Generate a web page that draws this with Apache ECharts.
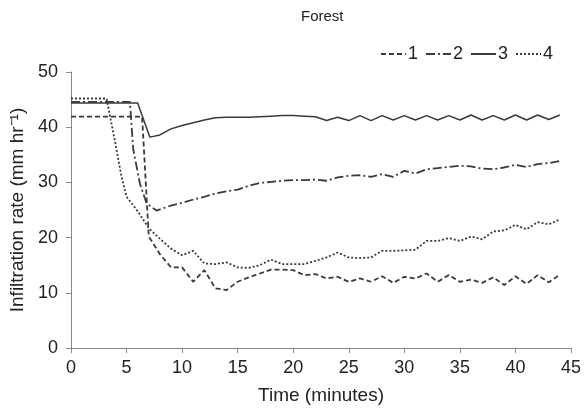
<!DOCTYPE html>
<html>
<head>
<meta charset="utf-8">
<script src="https://cdn.jsdelivr.net/npm/echarts@6/dist/echarts.min.js"></script>
<style>html,body{margin:0;padding:0;background:#fff}#c{width:584px;height:411px}</style>
</head>
<body>
<div id="c"></div>
<script>
const seriesNames = ['1', '2', '3', '4'];
const xTicks = [0, 5, 10, 15, 20, 25, 30, 35, 40, 45];
const yTicks = [0, 10, 20, 30, 40, 50];

const t1 = [0,1,2,3,4,5,6,6.4,7,8,9,10,11,12,13,14,15,16,17,18,19,20,21,22,23,24,25,26,27,28,29,30,31,32,33,34,35,36,37,38,39,40,41,42,43,44];
const v1 = [41.9,41.9,41.9,41.9,41.9,41.9,41.9,41.9,20.2,17.0,14.6,14.6,12.0,14.1,10.8,10.5,12.0,12.8,13.5,14.2,14.2,14.1,13.2,13.4,12.6,12.9,12.0,12.6,12.0,13.0,11.8,12.9,12.6,13.5,12.0,13.2,12.0,12.4,11.8,12.8,11.4,13.0,11.6,13.2,11.9,13.3];

const t2 = [0,1,2,3,4,5,5.3,5.6,6.2,6.8,7.7,9,10,11,12,13,14,15,16,17,18,19,20,21,22,23,24,25,26,27,28,29,30,31,32,33,34,35,36,37,38,39,40,41,42,43,44];
const v2 = [44.6,44.6,44.6,44.6,44.6,44.6,44.6,36.0,29.8,26.2,24.9,25.8,26.3,26.9,27.4,28.0,28.4,28.7,29.4,29.9,30.1,30.3,30.4,30.4,30.5,30.3,30.9,31.2,31.3,31.0,31.5,31.0,32.1,31.6,32.4,32.6,32.8,33.0,32.9,32.5,32.4,32.7,33.2,32.8,33.3,33.5,33.9];

const t3 = [0,1,2,3,4,5,6,7.1,8,9,10,11,12,13,14,15,16,17,18,19,20,21,22,23,24,25,26,27,28,29,30,31,32,33,34,35,36,37,38,39,40,41,42,43,44];
const v3 = [44.4,44.4,44.4,44.4,44.4,44.4,44.4,38.2,38.6,39.7,40.3,40.8,41.3,41.7,41.8,41.8,41.8,41.9,42.0,42.1,42.1,42.0,41.9,41.2,41.8,41.2,42.1,41.2,42.1,41.3,42.1,41.3,42.1,41.3,42.1,41.3,42.2,41.3,42.1,41.3,42.2,41.3,42.2,41.4,42.2];

const t4 = [0,1,2,3,3.2,4,4.5,5,6,7,8,9,10,11,12,13,14,15,16,17,18,19,20,21,22,23,24,25,26,27,28,29,30,31,32,33,34,35,36,37,38,39,40,41,42,43,44];
const v4 = [45.2,45.2,45.2,45.2,45.2,37.0,31.5,27.4,24.8,21.7,19.8,18.0,16.8,17.6,15.3,15.2,15.5,14.6,14.5,15.0,16.0,15.2,15.2,15.2,15.8,16.4,17.3,16.4,16.3,16.4,17.6,17.6,17.7,17.8,19.4,19.4,19.9,19.4,20.2,19.7,21.1,21.3,22.3,21.5,22.8,22.4,23.3];

function pairs(t, v) { return t.map((x, i) => [x, v[i]]); }

const lineColor = '#3a3a3a';
const font = 'Liberation Sans, Arial, sans-serif';
const styles = [
  {type: [5, 3], width: 1.8},
  {type: [9, 3, 2, 3], width: 1.8},
  {type: 'solid', width: 1.5},
  {type: [2, 2], width: 1.8}
];
const datasets = [pairs(t1, v1), pairs(t2, v2), pairs(t3, v3), pairs(t4, v4)];

const chart = echarts.init(document.getElementById('c'), null, {renderer: 'canvas'});
chart.setOption({
  animation: false,
  backgroundColor: '#fff',
  title: {
    text: 'Forest', left: 296, top: 4,
    textStyle: {fontFamily: font, fontSize: 15, fontWeight: 'normal', color: '#222'}
  },
  legend: {
    data: seriesNames, right: 26, top: 40, itemWidth: 25, itemHeight: 10, itemGap: 7,
    itemStyle: {opacity: 0},
    textStyle: {fontFamily: font, fontSize: 18, color: '#222', padding: [0, 0, 0, -3]}
  },
  grid: {left: 71, right: 13, top: 72, bottom: 63, containLabel: false},
  xAxis: {
    type: 'value', min: 0, max: 45, interval: 5,
    name: 'Time (minutes)', nameLocation: 'middle', nameGap: 38,
    nameTextStyle: {fontFamily: font, fontSize: 19, color: '#222'},
    axisLine: {show: true, lineStyle: {color: '#888', width: 1}},
    axisTick: {show: true, length: 5, lineStyle: {color: '#888'}},
    axisLabel: {fontFamily: font, fontSize: 18, color: '#222', margin: 11,
      formatter: v => xTicks.includes(v) ? String(v) : ''},
    splitLine: {show: false}
  },
  yAxis: {
    type: 'value', min: 0, max: 50, interval: 10,
    name: 'Infiltration rate (mm hr⁻¹)', nameLocation: 'middle', nameGap: 44,
    nameTextStyle: {fontFamily: font, fontSize: 19, color: '#222'},
    axisLine: {show: true, lineStyle: {color: '#888', width: 1}},
    axisTick: {show: true, length: 5, lineStyle: {color: '#888'}},
    axisLabel: {fontFamily: font, fontSize: 18, color: '#222', margin: 13,
      formatter: v => yTicks.includes(v) ? String(v) : ''},
    splitLine: {show: false}
  },
  series: seriesNames.map((n, i) => ({
    name: n, type: 'line', data: datasets[i], symbol: 'none', showSymbol: false,
    lineStyle: {color: lineColor, width: styles[i].width, type: styles[i].type},
    itemStyle: {color: lineColor}
  }))
});
</script>
</body>
</html>
